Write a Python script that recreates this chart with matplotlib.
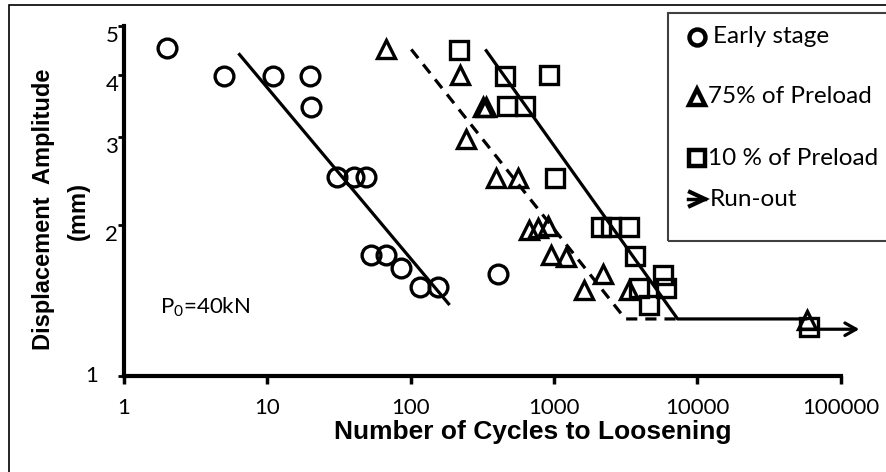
import matplotlib
matplotlib.use("Agg")
import matplotlib.pyplot as plt
from matplotlib.lines import Line2D
from matplotlib.patches import Rectangle
from matplotlib.ticker import FixedLocator, NullLocator, NullFormatter

plt.rcParams['mathtext.fontset'] = 'custom'
plt.rcParams['mathtext.rm'] = 'Lato'

# ---------------- data ----------------
early_x = [2.0, 5.0, 11.0, 19.8, 20.2, 30.4, 40.4, 48.7, 52.7, 67.8, 86.0, 117.0, 155.0, 406.0]
early_y = [4.51, 3.98, 3.98, 3.98, 3.44, 2.50, 2.50, 2.50, 1.745, 1.745, 1.64, 1.508, 1.508, 1.60]

tri_x = [67.8, 220.0, 320.0, 335.0, 245.0, 396.0, 561.0, 675.0, 773.0, 906.0, 956.0, 1216.0,
         1630.0, 2190.0, 3357.0, 58600.0]
tri_y = [4.49, 3.99, 3.44, 3.44, 2.98, 2.48, 2.48, 1.96, 1.975, 1.99, 1.745, 1.73,
         1.485, 1.60, 1.485, 1.294]

sq_x = [216.0, 459.0, 930.0, 472.0, 630.0, 1019.0, 2133.0, 2500.0, 3357.0, 3675.0, 5730.0,
        3940.0, 6040.0, 4620.0, 60100.0]
sq_y = [4.48, 3.97, 3.99, 3.46, 3.46, 2.48, 1.987, 1.987, 1.987, 1.737, 1.59,
        1.497, 1.497, 1.386, 1.251]

early_fit_x = [6.29, 187.0]
early_fit_y = [4.41, 1.386]
tri_fit_x = [101.0, 3150.0, 7290.0]
tri_fit_y = [4.49, 1.30, 1.30]
sq_fit_x = [332.0, 7290.0, 58600.0]
sq_fit_y = [4.49, 1.30, 1.30]
runout_x = [52000.0, 135000.0]
runout_y = [1.24, 1.24]

x_ticks = [1, 10, 100, 1000, 10000, 100000]
x_tick_labels = ['1', '10', '100', '1000', '10000', '100000']
y_ticks = [1, 2, 3, 4, 5]
y_tick_labels = ['1', '2', '3', '4', '5']

legend_labels = ['Early stage', '75% of Preload', '10 % of Preload', 'Run-out']

# ---------------- figure ----------------
W, H = 886, 472
fig = plt.figure(figsize=(W / 100, H / 100), dpi=100)
ax = fig.add_axes([124 / W, 1 - 376 / H, (840.6 - 124) / W, (376 - 26) / H])
ax.set_xscale('log')
ax.set_yscale('log')
ax.set_xlim(1, 100000)
ax.set_ylim(1, 5)

LW = 2.3
MEW = 2.4
MS = 13.5
mk = dict(linestyle='none', markerfacecolor='none', markeredgecolor='black',
          markeredgewidth=MEW, clip_on=False)

ax.plot(early_fit_x, early_fit_y, color='black', lw=LW, solid_capstyle='butt')
ax.plot(tri_fit_x, tri_fit_y, color='black', lw=LW, ls=(0, (3.5, 2.5)), dash_capstyle='butt')
ax.plot(sq_fit_x, sq_fit_y, color='black', lw=LW, solid_capstyle='butt')

ax.plot(early_x, early_y, marker='o', markersize=MS, **mk)
ax.plot(tri_x, tri_y, marker='^', markersize=MS, **mk)
ax.plot(sq_x, sq_y, marker='s', markersize=MS - 0.5, **mk)

ax.annotate('', xy=(runout_x[1], runout_y[1]), xytext=(runout_x[0], runout_y[0]),
            xycoords='data', textcoords='data', annotation_clip=False,
            arrowprops=dict(arrowstyle='->,head_length=0.8,head_width=0.45',
                            lw=LW, color='black', shrinkA=0, shrinkB=0))

# axes styling
for s in ['top', 'right']:
    ax.spines[s].set_visible(False)
for s in ['left', 'bottom']:
    ax.spines[s].set_linewidth(3)
ax.xaxis.set_major_locator(FixedLocator(x_ticks))
ax.xaxis.set_minor_locator(NullLocator())
ax.yaxis.set_major_locator(FixedLocator(y_ticks))
ax.yaxis.set_minor_locator(NullLocator())
ax.yaxis.set_minor_formatter(NullFormatter())
ax.xaxis.set_minor_formatter(NullFormatter())
ax.set_xticklabels(x_tick_labels, fontfamily='Lato', fontsize=16)
ax.tick_params(axis='x', direction='out', length=6, width=2.5, pad=10)
ax.tick_params(axis='y', direction='out', length=4, width=2, labelleft=False)

ytr = ax.get_yaxis_transform()
for v, lab in zip(y_ticks, y_tick_labels):
    if v == 1:
        ax.text(-0.036, v, lab, transform=ytr, ha='right', va='center',
                fontfamily='Lato', fontsize=16)
    else:
        ax.text(-0.008, v, lab, transform=ytr, ha='right', va='top',
                fontfamily='Lato', fontsize=16)

ax.text(0.05, 0.18, r'P$_\mathregular{0}$=40kN', transform=ax.transAxes,
        ha='left', va='baseline', fontfamily='Lato', fontsize=16)

# axis titles
fig.text(533 / W, 1 - 432 / H, 'Number of Cycles to Loosening', ha='center', va='center',
         fontfamily='Liberation Sans', fontweight='bold', fontsize=19)
fig.text(44 / W, 1 - 209 / H, 'Displacement  Amplitude', ha='center', va='center',
         rotation=90, fontfamily='Liberation Sans', fontweight='bold', fontsize=17)
fig.text(78 / W, 1 - 211 / H, '(mm)', ha='center', va='center',
         rotation=90, fontfamily='Liberation Sans', fontweight='bold', fontsize=17)

# outer frame
fig.add_artist(Rectangle((9 / W, -0.1), 1.2, 1 - 5 / H + 0.1, transform=fig.transFigure,
                         fill=False, edgecolor='black', lw=1.2, clip_on=False))
# legend box
fig.add_artist(Rectangle((668 / W, 1 - 240.7 / H), 0.5, (240.7 - 12.7) / H,
                         transform=fig.transFigure, fill=False, edgecolor='#404040',
                         lw=1.5, clip_on=False))

leg_mx = 696.7 / W
leg_items = [('o', 36.7, 713), ('^', 96.7, 708), ('s', 158.3, 708)]
for (m, yy, tx), lab in zip(leg_items, legend_labels[:3]):
    fig.add_artist(Line2D([leg_mx], [1 - yy / H], transform=fig.transFigure, marker=m,
                          markersize=11.5 if m != 's' else 12, markerfacecolor='none',
                          markeredgecolor='black', markeredgewidth=3.2, linestyle='none'))
    fig.text(tx / W, 1 - yy / H, lab, ha='left', va='center', fontfamily='Lato', fontsize=17.5)

fig.add_artist(Line2D([688 / W, 705 / W], [1 - 199 / H, 1 - 199 / H], transform=fig.transFigure,
                      color='black', lw=2.5))
fig.add_artist(Line2D([690 / W, 705 / W, 690 / W], [1 - 192 / H, 1 - 199 / H, 1 - 206 / H],
                      transform=fig.transFigure, color='black', lw=3, solid_joinstyle='miter'))
fig.text(710 / W, 1 - 200 / H, legend_labels[3], ha='left', va='center', fontfamily='Lato',
         fontsize=17.5)

fig.savefig('out.png', dpi=100)
